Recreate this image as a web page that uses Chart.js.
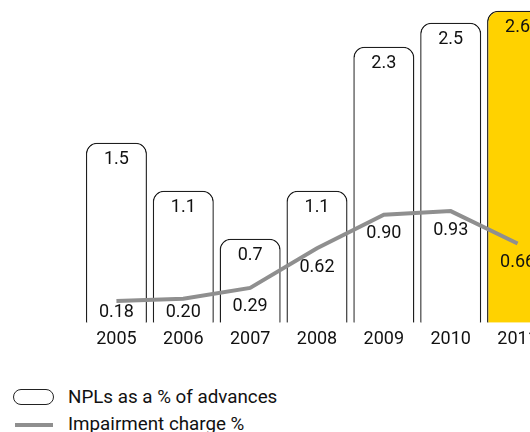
<!DOCTYPE html>
<html>
<head>
<meta charset="utf-8">
<script src="https://cdn.jsdelivr.net/npm/chart.js@4.4.1/dist/chart.umd.min.js"></script>
<style>
  html, body { margin: 0; padding: 0; background: #fff; overflow: hidden; width: 530px; height: 432px; }
  #wrap { position: absolute; left: 0; top: 0; width: 560px; height: 360px; }
  .legend { position: absolute; left: 0; font-family: Roboto, "DejaVu Sans Condensed", sans-serif; font-weight: 400; font-size: 18.8px; color: #111; }
  .row { position: absolute; left: 0; height: 20px; width: 340px; }
  .sym-bar { position: absolute; left: 13px; top: 2px; width: 39px; height: 14px; border: 1.4px solid #222; border-radius: 8px; background: #fff; }
  .sym-line { position: absolute; left: 15px; top: 9px; width: 38px; height: 4px; background: #8f8f8f; }
  .lbl { position: absolute; left: 68px; top: 0; line-height: 20px; white-space: nowrap; }
</style>
</head>
<body>
<div id="wrap"><canvas id="c"></canvas></div>
<div class="legend">
  <div class="row" style="top:387px"><div class="sym-bar"></div><div class="lbl" id="l1"></div></div>
  <div class="row" style="top:414px"><div class="sym-line"></div><div class="lbl" id="l2"></div></div>
</div>
<script>
// Years shown on the category axis
const years = ['2005', '2006', '2007', '2008', '2009', '2010', '2011'];
// Non-performing loans as a % of advances
const nplPct = [1.5, 1.1, 0.7, 1.1, 2.3, 2.5, 2.6];
// Impairment charge %
const impairmentPct = [0.18, 0.20, 0.29, 0.62, 0.90, 0.93, 0.66];
// Series names
const seriesNames = ['NPLs as a % of advances', 'Impairment charge %'];

document.getElementById('l1').textContent = seriesNames[0];
document.getElementById('l2').textContent = seriesNames[1];

const FONT = 'Roboto, "DejaVu Sans Condensed", sans-serif';
const lastIdx = years.length - 1;

// Draws the value labels: NPL values near the top of each bar,
// impairment values just under each line point (kept above the baseline).
const valueLabels = {
  id: 'valueLabels',
  afterDatasetsDraw(chart) {
    const ctx = chart.ctx;
    const bars = chart.getDatasetMeta(1).data;
    const pts = chart.getDatasetMeta(0).data;
    const base = chart.scales.y.getPixelForValue(0);
    ctx.save();
    ctx.font = '400 18px ' + FONT;
    ctx.fillStyle = '#111';
    ctx.textAlign = 'center';
    ctx.textBaseline = 'middle';
    bars.forEach((b, i) => {
      ctx.fillText(nplPct[i].toFixed(1), b.x, b.y + 17);
    });
    pts.forEach((p, i) => {
      const y = Math.min(p.y + 19, base - 10);
      ctx.fillText(impairmentPct[i].toFixed(2), p.x, y);
    });
    ctx.restore();
  }
};

new Chart(document.getElementById('c'), {
  data: {
    labels: years,
    datasets: [
      {
        type: 'line',
        label: seriesNames[1],
        data: impairmentPct,
        borderColor: '#8f8f8f',
        borderWidth: 4,
        pointRadius: 0,
        tension: 0,
        order: 0
      },
      {
        type: 'bar',
        label: seriesNames[0],
        data: nplPct,
        backgroundColor: years.map((_, i) => i === lastIdx ? '#ffd200' : '#ffffff'),
        borderColor: '#1e1e1e',
        borderWidth: 1.4,
        borderSkipped: 'bottom',
        borderRadius: { topLeft: 11, topRight: 11, bottomLeft: 0, bottomRight: 0 },
        barPercentage: 0.913,
        categoryPercentage: 1,
        order: 1
      }
    ]
  },
  options: {
    responsive: true,
    maintainAspectRatio: false,
    animation: false,
    devicePixelRatio: 1,
    layout: { padding: { left: 83, right: 9, top: 0, bottom: 0 } },
    plugins: { legend: { display: false }, tooltip: { enabled: false } },
    scales: {
      x: {
        grid: { display: false, drawTicks: false },
        border: { display: false },
        ticks: { color: '#111', font: { family: FONT, size: 18, weight: '400' }, padding: 6, maxRotation: 0 },
        afterFit(scale) { scale.height = 37.3; }
      },
      y: {
        display: false,
        min: 0,
        max: 2.689
      }
    }
  },
  plugins: [valueLabels]
});
</script>
</body>
</html>
